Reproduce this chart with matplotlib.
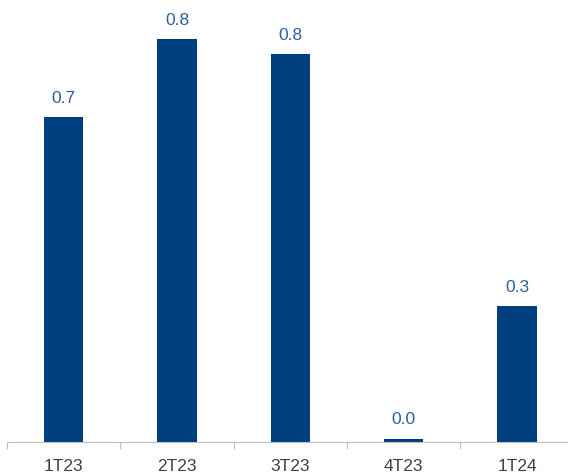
import matplotlib.pyplot as plt

categories = ['1T23', '2T23', '3T23', '4T23', '1T24']
values = [0.67, 0.83, 0.80, 0.007, 0.28]

plt.rcParams['font.family'] = ['Liberation Sans', 'DejaVu Sans']

fig = plt.figure(figsize=(5.68, 4.75), dpi=100)
ax = fig.add_axes([0.0123, 0.0695, 0.9877, 0.9305])

x = range(len(categories))
bars = ax.bar(x, values, width=0.345, color='#003F7F')

for b, v in zip(bars, values):
    ax.annotate(f'{v:.1f}', (b.get_x() + b.get_width() / 2, b.get_height()),
                xytext=(0, 8), textcoords='offset points',
                ha='center', va='bottom', fontsize=12.5, color='#2F5E9C')

ax.set_xlim(-0.5, 4.45)
ax.set_ylim(0, 0.911)

for s in ['top', 'right', 'left']:
    ax.spines[s].set_visible(False)
ax.spines['bottom'].set_color('#BFBFBF')
ax.set_yticks([])

# separators between categories
ax.set_xticks([i - 0.5 for i in range(len(categories))])
ax.set_xticklabels([])
ax.tick_params(axis='x', which='major', length=5, color='#BFBFBF')
ax.set_xticks(list(x), minor=True)
ax.set_xticklabels(categories, minor=True)
ax.tick_params(axis='x', which='minor', length=0, pad=12,
               labelsize=12.5, labelcolor='#404040')

fig.savefig('out.png', dpi=100)
